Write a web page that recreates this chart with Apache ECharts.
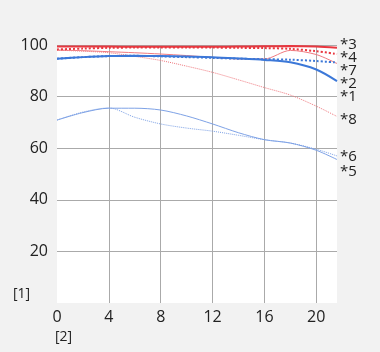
<!DOCTYPE html>
<html>
<head>
<meta charset="utf-8">
<script src="https://cdn.jsdelivr.net/npm/echarts@6/dist/echarts.min.js"></script>
<style>
  html, body { margin: 0; padding: 0; background: #f2f2f2; }
  #chart { width: 380px; height: 352px; }
</style>
</head>
<body>
<div id="chart"></div>
<script>
    var xPos = [0, 2, 4, 6, 8, 10, 12, 14, 16, 18, 20, 21.6];
    var yTicks = [20, 40, 60, 80, 100];
    // thick lines
    var s3 = [99.4, 99.4, 99.4, 99.3, 99.3, 99.3, 99.3, 99.4, 99.5, 99.6, 99.4, 98.9];
    var s4 = [98.3, 98.6, 98.9, 99.0, 99.0, 99.0, 99.0, 98.9, 98.8, 98.5, 97.6, 96.5];
    var s2 = [94.7, 95.3, 95.7, 95.8, 95.7, 95.5, 95.3, 94.8, 94.2, 93.3, 90.5, 86.0];
    var s1 = [94.7, 95.3, 95.7, 95.8, 95.6, 95.3, 95.0, 94.7, 94.5, 94.3, 93.8, 93.2];
    // thin lines
    var s7 = [98.0, 97.8, 97.4, 97.0, 96.5, 95.9, 95.2, 94.6, 94.6, 97.9, 96.3, 92.8];
    var s8 = [98.0, 97.6, 97.0, 95.6, 94.0, 91.8, 89.4, 86.5, 83.5, 80.6, 76.3, 72.3];
    var s5 = [70.9, 73.8, 75.5, 75.5, 74.8, 72.5, 69.4, 66.0, 63.3, 62.0, 59.2, 55.6];
    var s6 = [70.9, 74.0, 75.6, 72.0, 69.4, 67.8, 66.6, 65.0, 63.3, 62.0, 59.6, 57.0];
    var endLabels = ['*3', '*4', '*7', '*2', '*1', '*8', '*6', '*5'];
    var endLabelY = [45, 58, 71, 84, 97, 120, 157, 172];

    var red = '#e8373f', blue = '#3c78d8', redThin = '#f07a80', blueThin = '#7ea2e6';
    var font = 'Open Sans';

    function pairs(vals) {
        return vals.map(function (v, i) { return [xPos[i], v]; });
    }
    function line(vals, color, width, type) {
        return {
            type: 'line',
            data: pairs(vals),
            smooth: 0.3,
            symbol: 'none',
            silent: true,
            lineStyle: { color: color, width: width, type: type }
        };
    }

    var chart = echarts.init(document.getElementById('chart'));
    var option = {
        backgroundColor: '#f2f2f2',
        animation: false,
        textStyle: { fontFamily: font },
        grid: {
            left: 57, right: 43, top: 45, bottom: 49,
            show: true, backgroundColor: '#fff', borderWidth: 0
        },
        xAxis: {
            type: 'value',
            min: 0,
            max: 21.6,
            interval: 4,
            axisLine: { show: false },
            axisTick: { show: false },
            axisLabel: { color: '#222', fontSize: 16, margin: 6, showMaxLabel: false },
            splitLine: { showMinLine: false, showMaxLine: false, lineStyle: { color: '#aaa', width: 1 } }
        },
        yAxis: {
            type: 'value',
            min: 0,
            max: 100,
            interval: 20,
            axisLine: { show: false },
            axisTick: { show: false },
            axisLabel: {
                color: '#222', fontSize: 16, margin: 9,
                formatter: function (v) { return yTicks.indexOf(v) >= 0 ? v : ''; }
            },
            splitLine: { showMinLine: false, lineStyle: { color: '#aaa', width: 1 } }
        },
        graphic: endLabels.map(function (t, i) {
            return {
                type: 'text', left: 340, top: endLabelY[i] - 8,
                style: { text: t, fontSize: 15, fill: '#222', fontFamily: font }
            };
        }).concat([
            { type: 'text', left: 13, top: 287, style: { text: '[1]', fontSize: 14, fill: '#222', fontFamily: font } },
            { type: 'text', left: 55, top: 330, style: { text: '[2]', fontSize: 14, fill: '#222', fontFamily: font } }
        ]),
        series: [
            line(s6, blueThin, 1, 'dotted'),
            line(s5, blueThin, 1, 'solid'),
            line(s8, redThin, 1, 'dotted'),
            line(s7, redThin, 1, 'solid'),
            line(s1, blue, 2, 'dotted'),
            line(s2, blue, 2, 'solid'),
            line(s4, red, 2, 'dotted'),
            line(s3, red, 2, 'solid')
        ]
    };
    chart.setOption(option);
</script>
</body>
</html>
